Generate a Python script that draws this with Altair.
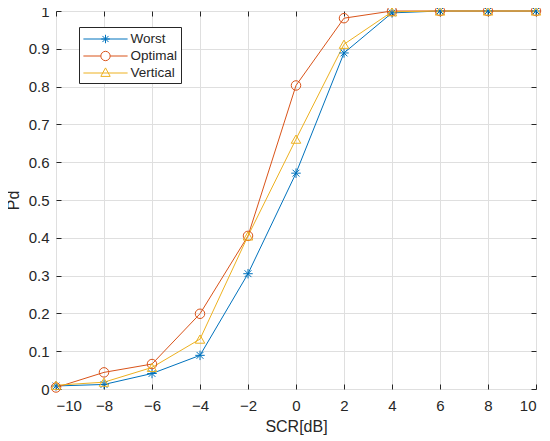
import altair as alt
import pandas as pd

x_vals = [-10, -8, -6, -4, -2, 0, 2, 4, 6, 8, 10]
worst = [0.008, 0.012, 0.041, 0.089, 0.305, 0.571, 0.889, 0.995, 1.0, 1.0, 1.0]
optimal = [0.004, 0.044, 0.066, 0.199, 0.405, 0.803, 0.981, 1.0, 1.0, 1.0, 1.0]
vertical = [0.01, 0.018, 0.057, 0.132, 0.405, 0.661, 0.912, 0.998, 1.0, 1.0, 1.0]

series_names = ["Worst", "Optimal", "Vertical"]
series_colors = ["#0072BD", "#D95319", "#EDB120"]

rows = []
for name, vals in zip(series_names, [worst, optimal, vertical]):
    for xv, yv in zip(x_vals, vals):
        rows.append({"series": name, "SCR": xv, "Pd": yv})
df = pd.DataFrame(rows)

FONT = "Liberation Sans"
TXT = "#262626"
y_ticks = [i / 10 for i in range(11)]

asterisk = "M-1,0L1,0M0,-1L0,1M-0.72,-0.72L0.72,0.72M-0.72,0.72L0.72,-0.72"
plot_shapes = [asterisk, "circle", "triangle-up"]

legend_shapes = [
    "M-2.6,0L2.6,0M-0.5,0L0.5,0M0,-0.5L0,0.5M-0.36,-0.36L0.36,0.36M-0.36,0.36L0.36,-0.36",
    "M-2.6,0L-0.55,0M0.55,0L2.6,0M0.55,0A0.55,0.55 0 1,1 -0.55,0A0.55,0.55 0 1,1 0.55,0",
    "M-2.6,0L2.6,0M0,-0.6L0.55,0.4L-0.55,0.4Z",
]

xscale = alt.Scale(domain=[-10, 10], nice=False, zero=False)
yscale = alt.Scale(domain=[0, 1], nice=False, zero=False)
cscale = alt.Scale(domain=series_names, range=series_colors)

x_axis = alt.Axis(
    values=x_vals, title="SCR[dB]", grid=True, gridColor="#dfdfdf",
    domain=False, ticks=True, tickSize=5, tickColor=TXT, offset=-5,
    labelPadding=9, labelFontSize=15, labelFont=FONT, labelColor=TXT,
    titleFontSize=16, titleFont=FONT, titleColor=TXT, titleFontWeight="normal",
    titlePadding=5,
)
y_axis = alt.Axis(
    values=y_ticks, title="Pd", grid=True, gridColor="#dfdfdf",
    domain=False, ticks=True, tickSize=5, tickColor=TXT, offset=-5,
    labelPadding=7, labelFontSize=15, labelFont=FONT, labelColor=TXT,
    titleFontSize=16, titleFont=FONT, titleColor=TXT, titleFontWeight="normal",
    titlePadding=7,
    labelExpr="datum.value == 0 ? '0' : datum.value == 1 ? '1' : format(datum.value, '.1f')",
)

leg = alt.Legend(
    title=None, orient="none", legendX=23, legendY=16,
    strokeColor=TXT, fillColor="white", padding=3, cornerRadius=0,
    symbolOffset=14.5, labelOffset=16, rowPadding=1,
    labelFontSize=13.5, labelFont=FONT, labelColor=TXT,
    symbolStrokeWidth=1, symbolSize=289, symbolOpacity=1,
)

base = alt.Chart(df)

lines = base.mark_line(strokeWidth=1).encode(
    x=alt.X("SCR:Q", scale=xscale, axis=x_axis),
    y=alt.Y("Pd:Q", scale=yscale, axis=y_axis),
    color=alt.Color("series:N", scale=cscale, legend=leg),
    detail="series:N",
    order="SCR:Q",
)

point_layers = []
for name, shp in zip(series_names, plot_shapes):
    point_layers.append(
        base.transform_filter(alt.datum.series == name)
        .mark_point(shape=shp, filled=False, size=90, strokeWidth=1, opacity=1)
        .encode(
            x=alt.X("SCR:Q", scale=xscale, axis=None),
            y=alt.Y("Pd:Q", scale=yscale, axis=None),
            color=alt.Color("series:N", scale=cscale, legend=leg),
        )
    )

legend_layer = base.mark_point(filled=False, strokeWidth=1, opacity=0).encode(
    x=alt.X("SCR:Q", scale=xscale, axis=None),
    y=alt.Y("Pd:Q", scale=yscale, axis=None),
    color=alt.Color("series:N", scale=cscale, legend=leg),
    shape=alt.Shape("series:N", scale=alt.Scale(domain=series_names, range=legend_shapes), legend=leg),
)

frame_axes = base.mark_point(opacity=0).encode(
    x=alt.X("SCR:Q", scale=xscale, axis=alt.Axis(
        orient="top", values=x_vals, labels=False, title=None, grid=False, domain=False,
        ticks=True, tickSize=5, tickColor=TXT, offset=-5)),
    y=alt.Y("Pd:Q", scale=yscale, axis=alt.Axis(
        orient="right", values=y_ticks, labels=False, title=None, grid=False,
        domain=False, ticks=True, tickSize=5, tickColor=TXT, offset=-5)),
)

chart = alt.layer(lines, *point_layers, frame_axes, legend_layer).resolve_axis(
    x="independent", y="independent"
).properties(
    width=480, height=378,
    autosize=alt.AutoSizeParams(type="none"),
    padding={"left": 48, "top": 3, "right": 6, "bottom": 48},
).configure_view(stroke=TXT, strokeWidth=1).configure(background="white")

chart.save("out.html", embed_options={"renderer": "svg", "actions": False})
